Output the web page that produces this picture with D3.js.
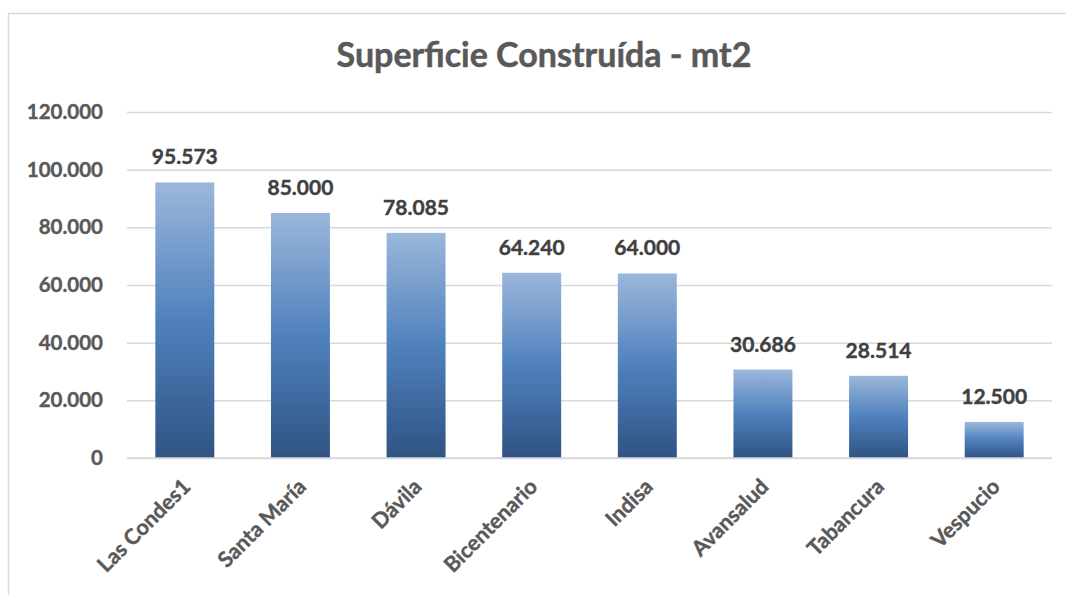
<!DOCTYPE html>
<html><head><meta charset="utf-8">
<script src="https://cdn.jsdelivr.net/npm/d3@7"></script>
<style>
html,body{margin:0;padding:0;background:#fff;}
svg{display:block;font-family:Lato,"Open Sans",sans-serif;}
</style></head>
<body>
<svg id="chart" width="1066" height="595"></svg>
<script>
const categories = ["Las Condes1","Santa María","Dávila","Bicentenario","Indisa","Avansalud","Tabancura","Vespucio"];
const values = [95573, 85000, 78085, 64240, 64000, 30686, 28514, 12500];
const yTicks = [0, 20000, 40000, 60000, 80000, 100000, 120000];
const title = "Superficie Construída - mt2";

const svg = d3.select("#chart");
const W = 1066, H = 595;
const m = {left:127, right:14, top:112, bottom:137};

const loc = d3.formatLocale({decimal:",", thousands:".", grouping:[3], currency:["",""]});
const fmt = loc.format(",.0f");

// border
svg.append("rect").attr("x",8.5).attr("y",13.5).attr("width",1080).attr("height",620)
  .attr("fill","#fff").attr("stroke","#d9d9d9").attr("stroke-width",1.5);

const x = d3.scaleBand().domain(categories).range([m.left, W-m.right]).paddingInner(0.49).paddingOuter(0.245);
const y = d3.scaleLinear().domain([0,120000]).range([H-m.bottom, m.top]);

const defs = svg.append("defs");
const g = defs.append("linearGradient").attr("id","barGrad").attr("x1",0).attr("y1",0).attr("x2",0).attr("y2",1);
g.append("stop").attr("offset","0%").attr("stop-color","#9bb7db");
g.append("stop").attr("offset","50%").attr("stop-color","#4f81bd");
g.append("stop").attr("offset","100%").attr("stop-color","#2f5383");

// title
svg.append("text").attr("x",544).attr("y",67).attr("text-anchor","middle")
  .attr("font-size",34).attr("font-weight",700).attr("fill","#595959")
  .attr("stroke","#595959").attr("stroke-width",0.5).text(title);

// gridlines
const yAxis = d3.axisLeft(y).tickValues(yTicks).tickFormat(fmt).tickSize(-(W-m.right-m.left)).tickPadding(24);
const ya = svg.append("g").attr("transform",`translate(${m.left},0)`).call(yAxis);
ya.select(".domain").remove();
ya.selectAll(".tick line").attr("stroke","#d9d9d9").attr("stroke-width",1.5);
ya.selectAll(".tick text").attr("font-size",20.5).attr("font-weight",700).attr("fill","#595959")
  .attr("stroke","#595959").attr("stroke-width",0.4)
  .attr("font-family","Lato,sans-serif");

// bars
svg.append("g").selectAll("rect").data(values).join("rect")
  .attr("x",(d,i)=>x(categories[i])).attr("width",x.bandwidth())
  .attr("y",d=>y(d)).attr("height",d=>y(0)-y(d)).attr("fill","url(#barGrad)");

// x axis baseline
svg.append("line").attr("x1",m.left).attr("x2",W-m.right).attr("y1",y(0)).attr("y2",y(0))
  .attr("stroke","#d9d9d9").attr("stroke-width",1.5);

// data labels
svg.append("g").selectAll("text").data(values).join("text")
  .attr("x",(d,i)=>x(categories[i])+x.bandwidth()/2).attr("y",d=>y(d)-18)
  .attr("text-anchor","middle").attr("font-size",21).attr("font-weight",700).attr("fill","#404040")
  .attr("stroke","#404040").attr("stroke-width",0.4)
  .text(d=>fmt(d));

// category labels
const xAxis = d3.axisBottom(x).tickSize(0).tickPadding(0);
const xa = svg.append("g").attr("transform",`translate(0,${y(0)})`).call(xAxis);
xa.select(".domain").remove();
xa.selectAll(".tick text").attr("font-size",21.5).attr("font-weight",700).attr("fill","#595959")
  .attr("stroke","#595959").attr("stroke-width",0.4)
  .attr("font-family","Lato,sans-serif")
  .attr("text-anchor","end").attr("dy",null).attr("y",null)
  .attr("transform","translate(7,30) rotate(-45)");
</script>
</body></html>
